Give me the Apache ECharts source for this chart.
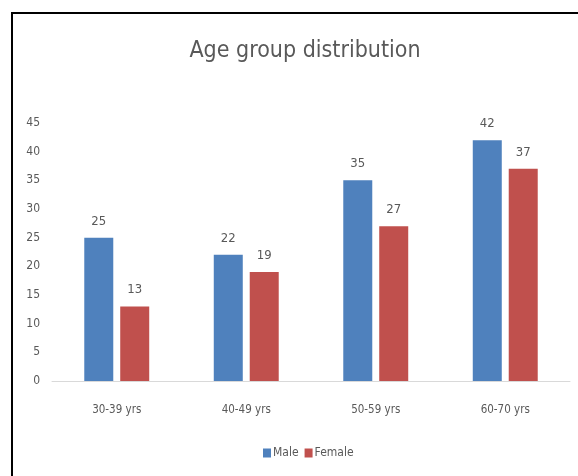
<!DOCTYPE html>
<html>
<head>
<meta charset="utf-8">
<script src="https://cdn.jsdelivr.net/npm/echarts@6/dist/echarts.min.js"></script>
<style>
  html, body { margin: 0; padding: 0; background: #fff; }
  #wrap { position: relative; width: 578px; height: 476px; overflow: hidden; }
  #chart { width: 578px; height: 476px; }
  #frame {
    position: absolute; left: 11px; top: 12px; width: 600px; height: 500px;
    border: 2px solid #000; pointer-events: none;
  }
</style>
</head>
<body>
<div id="wrap">
  <div id="chart"></div>
  <div id="frame"></div>
</div>
<script>
const categories = ['30-39 yrs', '40-49 yrs', '50-59 yrs', '60-70 yrs']
const male = [25, 22, 35, 42]
const female = [13, 19, 27, 37]

// narrow face first, the original was set in a condensed font
const font = '"Liberation Sans Narrow", "DejaVu Sans Condensed", "Open Sans", sans-serif'
const grey = '#595959'

const chart = echarts.init(document.getElementById('chart'))
chart.setOption({
  animation: false,
  textStyle: { fontFamily: font },
  title: {
    text: 'Age group distribution',
    left: 300,
    top: 35,
    textAlign: 'center',
    textStyle: { fontFamily: font, fontSize: 23, fontWeight: 'normal', color: grey },
  },
  legend: {
    bottom: 12,
    left: 258,
    itemWidth: 8,
    itemHeight: 9,
    itemGap: 6,
    icon: 'rect',
    textStyle: { fontFamily: font, fontSize: 12, color: grey, padding: [0, 0, 0, -3] },
    data: ['Male', 'Female'],
  },
  grid: { left: 52, right: 8, top: 123, bottom: 95 },
  xAxis: {
    type: 'category',
    data: categories,
    axisLine: { lineStyle: { color: '#d9d9d9' } },
    axisTick: { show: false },
    axisLabel: { color: grey, fontSize: 11.5, margin: 23, fontFamily: font },
  },
  yAxis: {
    type: 'value',
    min: 0,
    max: 45,
    interval: 5,
    axisLine: { show: false },
    axisTick: { show: false },
    splitLine: { show: false },
    axisLabel: { color: grey, fontSize: 12, margin: 12, align: 'right', fontFamily: font },
  },
  series: [
    {
      name: 'Male',
      type: 'bar',
      data: male,
      barWidth: 29,
      barGap: '24%',
      itemStyle: { color: '#4F81BD' },
      label: { show: true, position: 'top', distance: 10, color: grey, fontSize: 13, fontFamily: font },
    },
    {
      name: 'Female',
      type: 'bar',
      data: female,
      barWidth: 29,
      itemStyle: { color: '#C0504D' },
      label: { show: true, position: 'top', distance: 10, color: grey, fontSize: 13, fontFamily: font },
    },
  ],
})
</script>
</body>
</html>
